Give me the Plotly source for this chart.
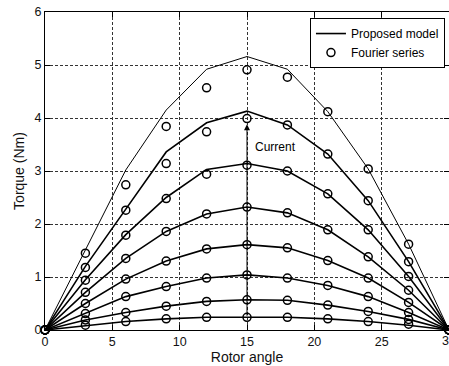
import plotly.graph_objects as go

# Rotor angle positions
angle = [0, 3, 6, 9, 12, 15, 18, 21, 24, 27, 30]

# Proposed model (one curve per current level, low -> high)
model_1 = [0, 0.08, 0.16, 0.21, 0.24, 0.24, 0.24, 0.21, 0.16, 0.09, 0]
model_2 = [0, 0.19, 0.33, 0.45, 0.54, 0.57, 0.56, 0.47, 0.35, 0.20, 0]
model_3 = [0, 0.31, 0.63, 0.82, 0.98, 1.04, 0.98, 0.84, 0.63, 0.33, 0]
model_4 = [0, 0.50, 0.96, 1.30, 1.53, 1.61, 1.55, 1.31, 0.98, 0.52, 0]
model_5 = [0, 0.71, 1.35, 1.86, 2.19, 2.32, 2.21, 1.89, 1.38, 0.75, 0]
model_6 = [0, 0.95, 1.80, 2.50, 3.03, 3.14, 3.00, 2.57, 1.89, 1.01, 0]
model_7 = [0, 1.20, 2.28, 3.36, 3.91, 4.13, 3.87, 3.32, 2.44, 1.29, 0]
model_8 = [0, 1.52, 3.02, 4.15, 4.92, 5.16, 4.92, 4.12, 3.04, 1.62, 0]

# Fourier series
fourier_1 = [0, 0.09, 0.16, 0.21, 0.24, 0.24, 0.24, 0.21, 0.16, 0.11, 0]
fourier_2 = [0, 0.19, 0.33, 0.45, 0.54, 0.57, 0.56, 0.47, 0.35, 0.20, 0]
fourier_3 = [0, 0.31, 0.63, 0.82, 0.98, 1.04, 0.98, 0.84, 0.63, 0.33, 0]
fourier_4 = [0, 0.50, 0.96, 1.30, 1.53, 1.61, 1.55, 1.31, 0.98, 0.52, 0]
fourier_5 = [0, 0.71, 1.35, 1.86, 2.19, 2.32, 2.21, 1.89, 1.38, 0.75, 0]
fourier_6 = [0, 0.94, 1.79, 2.48, 2.94, 3.11, 3.00, 2.57, 1.89, 1.01, 0]
fourier_7 = [0, 1.18, 2.26, 3.14, 3.74, 3.99, 3.87, 3.32, 2.44, 1.29, 0]
fourier_8 = [0, 1.45, 2.74, 3.84, 4.57, 4.91, 4.77, 4.12, 3.04, 1.62, 0]

models = [model_1, model_2, model_3, model_4, model_5, model_6, model_7, model_8]
fouriers = [fourier_1, fourier_2, fourier_3, fourier_4, fourier_5, fourier_6, fourier_7, fourier_8]

x_ticks = [0, 5, 10, 15, 20, 25, 30]
y_ticks = [0, 1, 2, 3, 4, 5, 6]

FONT = "Liberation Sans, Arial, sans-serif"
TICK_FONT = dict(family=FONT, size=12.5, color="#111111")

fig = go.Figure()

for i, m in enumerate(models):
    fig.add_trace(go.Scatter(
        x=angle, y=m, mode="lines",
        line=dict(color="black", width=1.0 if i == 7 else 1.6),
        name="Proposed model", legendgroup="model",
        showlegend=(i == 0),
        cliponaxis=False,
    ))

for i, f in enumerate(fouriers):
    fig.add_trace(go.Scatter(
        x=angle, y=f, mode="markers",
        marker=dict(symbol="circle-open", size=8, color="black",
                    line=dict(color="black", width=1.5)),
        name="Fourier series", legendgroup="fourier",
        showlegend=(i == 0),
        cliponaxis=False,
    ))

# Arrow indicating increasing current
fig.add_annotation(
    x=15, y=3.88, ax=15, ay=model_1[5],
    xref="x", yref="y", axref="x", ayref="y",
    text="", showarrow=True, arrowhead=2, arrowsize=1.2,
    arrowwidth=1, arrowcolor="black", standoff=0, startstandoff=0,
)
fig.add_annotation(
    x=15.45, y=3.45, xref="x", yref="y",
    text="Current", showarrow=False, xanchor="left", yanchor="middle",
    font=dict(family=FONT, size=12, color="black"),
)

# Last x tick label sits on the window edge (partly cut off as in the original);
# plotly hides overflowing tick labels, so draw it as a text label instead.
fig.add_annotation(
    x=x_ticks[-1], y=0, xref="x", yref="y",
    text=str(x_ticks[-1]), showarrow=False, xanchor="center", yanchor="top",
    yshift=-2, font=TICK_FONT,
)

axis_common = dict(
    showline=True, linecolor="black", linewidth=1, mirror="ticks",
    ticks="inside", ticklen=5, tickcolor="black", tickwidth=1,
    showgrid=True, gridcolor="#333333", gridwidth=1, griddash="3px,2px",
    zeroline=False, automargin=False,
    tickfont=TICK_FONT,
)

fig.update_xaxes(
    range=[0, 30], tickvals=x_ticks, ticktext=[str(v) for v in x_ticks],
    title=dict(text="Rotor angle", font=dict(family=FONT, size=14, color="#111111"), standoff=4),
    **axis_common,
)
fig.update_yaxes(
    range=[0, 6], tickvals=y_ticks, ticktext=[str(v) for v in y_ticks],
    title=dict(text="Torque (Nm)", font=dict(family=FONT, size=14, color="#111111"), standoff=6),
    **axis_common,
)

fig.update_layout(
    width=449, height=366,
    margin=dict(l=45, r=0, t=12, b=36),
    paper_bgcolor="white", plot_bgcolor="white",
    showlegend=True,
    legend=dict(
        x=0.99, y=0.981, xanchor="right", yanchor="top",
        bgcolor="white", bordercolor="black", borderwidth=1,
        font=dict(family=FONT, size=12, color="black"),
        tracegroupgap=0,
    ),
)

# Remove the default 8px page margin so the figure fills the window exactly.
fig.write_html(
    "out.html",
    config={"displayModeBar": False},
    post_script="document.body.style.margin='0px';",
)
